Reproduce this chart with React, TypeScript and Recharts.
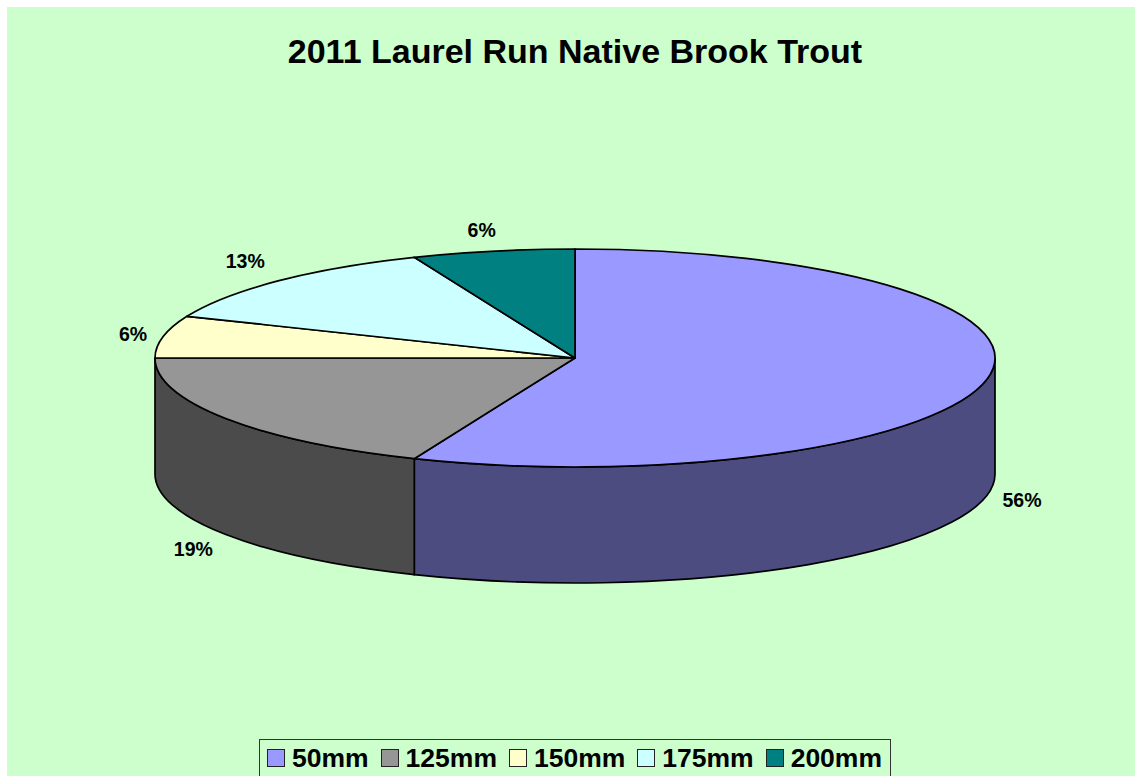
import React from 'react';
import { PieChart, Pie, Cell, Legend } from 'recharts';

const sizes = ['50mm', '125mm', '150mm', '175mm', '200mm'];
const counts = [9, 3, 1, 2, 1];
const topColors = ['#9999FF', '#969696', '#FFFFCC', '#CCFFFF', '#008080'];
const sideColors = ['#4C4C80', '#4B4B4B', '#80805F', '#668080', '#004040'];

const chartData = sizes.map((name, i) => ({ name, value: counts[i] }));

const WIDTH = 1128;
const HEIGHT = 769;
const CX = 568;
const CY = 351;
const RX = 420;
const RY = 109;
const DEPTH = 116;
const FONT = '"Liberation Sans", Arial, sans-serif';

// small hand nudges for the percent labels, same order as sizes
const labelNudge = [
  [-2, 0],
  [-1, 2],
  [7, 2],
  [-6, -5],
  [-4, 0],
];

const RAD = Math.PI / 180;
const px = (cx: number, deg: number) => cx + RX * Math.cos(deg * RAD);
const py = (cy: number, deg: number) => cy - RY * Math.sin(deg * RAD);

// flattened slice with its outer wall, so the pie looks tilted
const Slice3D = (props: any) => {
  const { cx, cy, startAngle, endAngle, fill, index } = props;
  const large = Math.abs(startAngle - endAngle) > 180 ? 1 : 0;
  const top = `M${cx},${cy} L${px(cx, startAngle)},${py(cy, startAngle)} A${RX},${RY} 0 ${large} 1 ${px(cx, endAngle)},${py(cy, endAngle)} Z`;

  // only the front half of the rim shows a wall
  const a = Math.min(startAngle, 0);
  const e = Math.max(endAngle, -180);
  let wall = null;
  if (a > e) {
    const d = `M${px(cx, a)},${py(cy, a)} A${RX},${RY} 0 0 1 ${px(cx, e)},${py(cy, e)} L${px(cx, e)},${py(cy, e) + DEPTH} A${RX},${RY} 0 0 0 ${px(cx, a)},${py(cy, a) + DEPTH} Z`;
    wall = <path d={d} fill={sideColors[index]} stroke="#000" strokeWidth={1.7} />;
  }
  return (
    <g>
      {wall}
      <path d={top} fill={fill} stroke="#000" strokeWidth={1.7} strokeLinejoin="round" />
    </g>
  );
};

const renderLabel = (props: any) => {
  const { cx, cy, midAngle, percent, index } = props;
  const c = Math.cos(midAngle * RAD);
  const s = Math.sin(midAngle * RAD);
  const x = cx + RX * 1.09 * c + labelNudge[index][0];
  const y = cy - RY * 1.2 * s + (s < 0 ? DEPTH : 0) + labelNudge[index][1];
  return (
    <text x={x} y={y} textAnchor="middle" dominantBaseline="central" fontFamily={FONT} fontWeight="bold" fontSize={19.5} fill="#000">
      {Math.round(percent * 100)}%
    </text>
  );
};

const LegendBox = () => (
  <div
    style={{
      display: 'flex',
      alignItems: 'center',
      height: 37,
      width: 632,
      boxSizing: 'border-box',
      border: '1.5px solid #333',
      borderBottom: 'none',
      paddingLeft: 7,
      fontFamily: FONT,
      fontWeight: 'bold',
      fontSize: 26.5,
      color: '#000',
      whiteSpace: 'nowrap',
    }}
  >
    {sizes.map((name, i) => (
      <span key={name} style={{ display: 'flex', alignItems: 'center', marginRight: i < sizes.length - 1 ? 12 : 0 }}>
        <span style={{ width: 18, height: 18, boxSizing: 'border-box', background: topColors[i], border: '1.5px solid #222', marginRight: 7 }} />
        {name}
      </span>
    ))}
  </div>
);

export default function App() {
  return (
    <div style={{ position: 'fixed', left: 7, top: 7, width: WIDTH, height: HEIGHT, background: '#CCFFCC', overflow: 'hidden' }}>
      <PieChart width={WIDTH} height={HEIGHT} margin={{ top: 0, right: 0, bottom: 0, left: 0 }}>
        <text x={CX} y={56} textAnchor="middle" fontFamily={FONT} fontWeight="bold" fontSize={34} fill="#000">
          2011 Laurel Run Native Brook Trout
        </text>
        <Pie
          data={chartData}
          dataKey="value"
          nameKey="name"
          cx={CX}
          cy={CY}
          outerRadius={RX}
          startAngle={90}
          endAngle={-270}
          paddingAngle={0}
          shape={Slice3D}
          label={renderLabel}
          labelLine={false}
          isAnimationActive={false}
        >
          {chartData.map((d, i) => (
            <Cell key={d.name} fill={topColors[i]} />
          ))}
        </Pie>
        <Legend
          content={<LegendBox />}
          wrapperStyle={{ position: 'absolute', left: 252, top: 732, width: 'auto', height: 37 }}
        />
      </PieChart>
    </div>
  );
}
